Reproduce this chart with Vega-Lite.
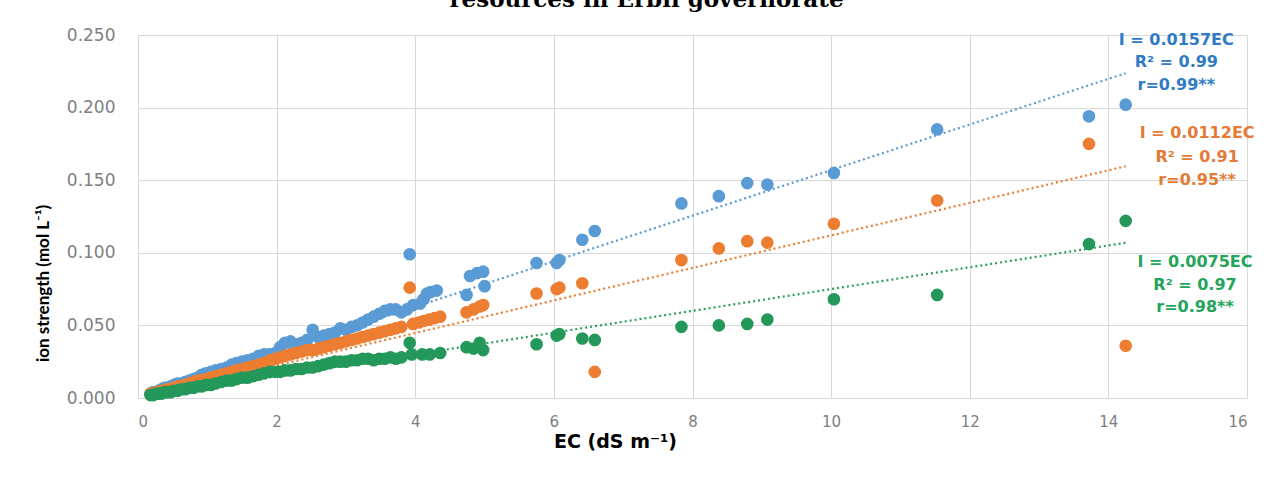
{
  "$schema": "https://vega.github.io/schema/vega-lite/v6.json",
  "width": 1109,
  "height": 363,
  "autosize": "none",
  "padding": {"left": 138, "top": 35, "right": 29, "bottom": 100},
  "background": "white",
  "title": {
    "text": "resources in Erbil governorate",
    "font": "DejaVu Serif",
    "fontSize": 23,
    "fontWeight": "bold",
    "color": "#000000",
    "anchor": "middle",
    "frame": "group",
    "baseline": "alphabetic",
    "offset": -4,
    "dx": -46
  },
  "config": {
    "view": {"stroke": null},
    "axis": {
      "grid": true,
      "gridColor": "#d9d9d9",
      "gridWidth": 1,
      "ticks": false,
      "labelFont": "DejaVu Sans",
      "labelFontSize": 15,
      "labelColor": "#7f7f7f",
      "titleFont": "Lato",
      "titleFontSize": 17,
      "titleFontWeight": "bold",
      "titleColor": "#000000"
    }
  },
  "datasets": {
    "pts": [
      {"EC":0.18,"I":0.003,"s":"a"},{"EC":0.22,"I":0.004,"s":"a"},{"EC":0.26,"I":0.004,"s":"a"},{"EC":0.3,"I":0.005,"s":"a"},{"EC":0.34,"I":0.006,"s":"a"},{"EC":0.38,"I":0.007,"s":"a"},{"EC":0.42,"I":0.007,"s":"a"},{"EC":0.47,"I":0.008,"s":"a"},{"EC":0.52,"I":0.009,"s":"a"},{"EC":0.57,"I":0.010,"s":"a"},{"EC":0.62,"I":0.010,"s":"a"},{"EC":0.68,"I":0.011,"s":"a"},{"EC":0.74,"I":0.012,"s":"a"},{"EC":0.8,"I":0.013,"s":"a"},{"EC":0.86,"I":0.014,"s":"a"},{"EC":0.92,"I":0.016,"s":"a"},{"EC":0.98,"I":0.017,"s":"a"},{"EC":1.05,"I":0.018,"s":"a"},{"EC":1.12,"I":0.019,"s":"a"},{"EC":1.2,"I":0.020,"s":"a"},{"EC":1.28,"I":0.021,"s":"a"},{"EC":1.35,"I":0.023,"s":"a"},{"EC":1.42,"I":0.024,"s":"a"},{"EC":1.5,"I":0.025,"s":"a"},{"EC":1.58,"I":0.026,"s":"a"},{"EC":1.66,"I":0.027,"s":"a"},{"EC":1.74,"I":0.029,"s":"a"},{"EC":1.82,"I":0.030,"s":"a"},{"EC":1.9,"I":0.030,"s":"a"},{"EC":1.98,"I":0.031,"s":"a"},{"EC":2.05,"I":0.035,"s":"a"},{"EC":2.12,"I":0.038,"s":"a"},{"EC":2.2,"I":0.039,"s":"a"},{"EC":2.28,"I":0.037,"s":"a"},{"EC":2.36,"I":0.038,"s":"a"},{"EC":2.44,"I":0.040,"s":"a"},{"EC":2.52,"I":0.047,"s":"a"},{"EC":2.6,"I":0.042,"s":"a"},{"EC":2.68,"I":0.043,"s":"a"},{"EC":2.76,"I":0.044,"s":"a"},{"EC":2.84,"I":0.045,"s":"a"},{"EC":2.92,"I":0.048,"s":"a"},{"EC":3.0,"I":0.047,"s":"a"},{"EC":3.08,"I":0.049,"s":"a"},{"EC":3.16,"I":0.050,"s":"a"},{"EC":3.24,"I":0.052,"s":"a"},{"EC":3.32,"I":0.054,"s":"a"},{"EC":3.4,"I":0.056,"s":"a"},{"EC":3.48,"I":0.058,"s":"a"},{"EC":3.56,"I":0.060,"s":"a"},{"EC":3.64,"I":0.061,"s":"a"},{"EC":3.72,"I":0.061,"s":"a"},{"EC":3.8,"I":0.059,"s":"a"},{"EC":3.88,"I":0.061,"s":"a"},{"EC":3.92,"I":0.099,"s":"a"},{"EC":3.97,"I":0.064,"s":"a"},{"EC":4.07,"I":0.065,"s":"a"},{"EC":4.12,"I":0.068,"s":"a"},{"EC":4.17,"I":0.072,"s":"a"},{"EC":4.22,"I":0.073,"s":"a"},{"EC":4.31,"I":0.074,"s":"a"},{"EC":4.74,"I":0.071,"s":"a"},{"EC":4.79,"I":0.084,"s":"a"},{"EC":4.89,"I":0.086,"s":"a"},{"EC":4.98,"I":0.087,"s":"a"},{"EC":5.0,"I":0.077,"s":"a"},{"EC":5.75,"I":0.093,"s":"a"},{"EC":6.04,"I":0.093,"s":"a"},{"EC":6.08,"I":0.095,"s":"a"},{"EC":6.41,"I":0.109,"s":"a"},{"EC":6.59,"I":0.115,"s":"a"},{"EC":7.84,"I":0.134,"s":"a"},{"EC":8.38,"I":0.139,"s":"a"},{"EC":8.79,"I":0.148,"s":"a"},{"EC":9.08,"I":0.147,"s":"a"},{"EC":10.04,"I":0.155,"s":"a"},{"EC":11.53,"I":0.185,"s":"a"},{"EC":13.72,"I":0.194,"s":"a"},{"EC":14.25,"I":0.202,"s":"a"},
      {"EC":0.18,"I":0.003,"s":"b"},{"EC":0.22,"I":0.003,"s":"b"},{"EC":0.26,"I":0.004,"s":"b"},{"EC":0.3,"I":0.004,"s":"b"},{"EC":0.34,"I":0.005,"s":"b"},{"EC":0.38,"I":0.005,"s":"b"},{"EC":0.42,"I":0.006,"s":"b"},{"EC":0.47,"I":0.006,"s":"b"},{"EC":0.52,"I":0.007,"s":"b"},{"EC":0.57,"I":0.008,"s":"b"},{"EC":0.62,"I":0.008,"s":"b"},{"EC":0.68,"I":0.009,"s":"b"},{"EC":0.74,"I":0.010,"s":"b"},{"EC":0.8,"I":0.011,"s":"b"},{"EC":0.86,"I":0.012,"s":"b"},{"EC":0.92,"I":0.012,"s":"b"},{"EC":0.98,"I":0.013,"s":"b"},{"EC":1.05,"I":0.014,"s":"b"},{"EC":1.12,"I":0.015,"s":"b"},{"EC":1.2,"I":0.016,"s":"b"},{"EC":1.28,"I":0.017,"s":"b"},{"EC":1.35,"I":0.018,"s":"b"},{"EC":1.42,"I":0.019,"s":"b"},{"EC":1.5,"I":0.020,"s":"b"},{"EC":1.58,"I":0.021,"s":"b"},{"EC":1.66,"I":0.022,"s":"b"},{"EC":1.74,"I":0.023,"s":"b"},{"EC":1.82,"I":0.024,"s":"b"},{"EC":1.9,"I":0.026,"s":"b"},{"EC":1.98,"I":0.027,"s":"b"},{"EC":2.05,"I":0.028,"s":"b"},{"EC":2.12,"I":0.029,"s":"b"},{"EC":2.2,"I":0.030,"s":"b"},{"EC":2.28,"I":0.031,"s":"b"},{"EC":2.36,"I":0.032,"s":"b"},{"EC":2.44,"I":0.033,"s":"b"},{"EC":2.52,"I":0.033,"s":"b"},{"EC":2.6,"I":0.034,"s":"b"},{"EC":2.68,"I":0.035,"s":"b"},{"EC":2.76,"I":0.036,"s":"b"},{"EC":2.84,"I":0.037,"s":"b"},{"EC":2.92,"I":0.038,"s":"b"},{"EC":3.0,"I":0.039,"s":"b"},{"EC":3.08,"I":0.040,"s":"b"},{"EC":3.16,"I":0.041,"s":"b"},{"EC":3.24,"I":0.042,"s":"b"},{"EC":3.32,"I":0.043,"s":"b"},{"EC":3.4,"I":0.044,"s":"b"},{"EC":3.48,"I":0.045,"s":"b"},{"EC":3.56,"I":0.046,"s":"b"},{"EC":3.64,"I":0.047,"s":"b"},{"EC":3.72,"I":0.048,"s":"b"},{"EC":3.8,"I":0.049,"s":"b"},{"EC":3.92,"I":0.076,"s":"b"},{"EC":3.97,"I":0.051,"s":"b"},{"EC":4.05,"I":0.052,"s":"b"},{"EC":4.12,"I":0.053,"s":"b"},{"EC":4.2,"I":0.054,"s":"b"},{"EC":4.28,"I":0.055,"s":"b"},{"EC":4.36,"I":0.056,"s":"b"},{"EC":4.74,"I":0.059,"s":"b"},{"EC":4.84,"I":0.061,"s":"b"},{"EC":4.93,"I":0.063,"s":"b"},{"EC":4.98,"I":0.064,"s":"b"},{"EC":5.75,"I":0.072,"s":"b"},{"EC":6.04,"I":0.075,"s":"b"},{"EC":6.08,"I":0.076,"s":"b"},{"EC":6.41,"I":0.079,"s":"b"},{"EC":6.59,"I":0.018,"s":"b"},{"EC":7.84,"I":0.095,"s":"b"},{"EC":8.38,"I":0.103,"s":"b"},{"EC":8.79,"I":0.108,"s":"b"},{"EC":9.08,"I":0.107,"s":"b"},{"EC":10.04,"I":0.120,"s":"b"},{"EC":11.53,"I":0.136,"s":"b"},{"EC":13.72,"I":0.175,"s":"b"},{"EC":14.25,"I":0.036,"s":"b"},
      {"EC":0.18,"I":0.002,"s":"c"},{"EC":0.22,"I":0.002,"s":"c"},{"EC":0.26,"I":0.003,"s":"c"},{"EC":0.3,"I":0.003,"s":"c"},{"EC":0.34,"I":0.003,"s":"c"},{"EC":0.38,"I":0.004,"s":"c"},{"EC":0.42,"I":0.004,"s":"c"},{"EC":0.47,"I":0.004,"s":"c"},{"EC":0.52,"I":0.005,"s":"c"},{"EC":0.57,"I":0.005,"s":"c"},{"EC":0.62,"I":0.006,"s":"c"},{"EC":0.68,"I":0.006,"s":"c"},{"EC":0.74,"I":0.007,"s":"c"},{"EC":0.8,"I":0.007,"s":"c"},{"EC":0.86,"I":0.008,"s":"c"},{"EC":0.92,"I":0.008,"s":"c"},{"EC":0.98,"I":0.009,"s":"c"},{"EC":1.05,"I":0.009,"s":"c"},{"EC":1.12,"I":0.010,"s":"c"},{"EC":1.2,"I":0.011,"s":"c"},{"EC":1.28,"I":0.012,"s":"c"},{"EC":1.35,"I":0.012,"s":"c"},{"EC":1.42,"I":0.013,"s":"c"},{"EC":1.5,"I":0.014,"s":"c"},{"EC":1.58,"I":0.014,"s":"c"},{"EC":1.66,"I":0.015,"s":"c"},{"EC":1.74,"I":0.016,"s":"c"},{"EC":1.82,"I":0.017,"s":"c"},{"EC":1.9,"I":0.018,"s":"c"},{"EC":1.98,"I":0.018,"s":"c"},{"EC":2.05,"I":0.018,"s":"c"},{"EC":2.12,"I":0.019,"s":"c"},{"EC":2.2,"I":0.019,"s":"c"},{"EC":2.28,"I":0.020,"s":"c"},{"EC":2.36,"I":0.020,"s":"c"},{"EC":2.44,"I":0.021,"s":"c"},{"EC":2.52,"I":0.021,"s":"c"},{"EC":2.6,"I":0.022,"s":"c"},{"EC":2.68,"I":0.023,"s":"c"},{"EC":2.76,"I":0.024,"s":"c"},{"EC":2.84,"I":0.025,"s":"c"},{"EC":2.92,"I":0.025,"s":"c"},{"EC":3.0,"I":0.025,"s":"c"},{"EC":3.08,"I":0.026,"s":"c"},{"EC":3.16,"I":0.026,"s":"c"},{"EC":3.24,"I":0.027,"s":"c"},{"EC":3.32,"I":0.027,"s":"c"},{"EC":3.4,"I":0.026,"s":"c"},{"EC":3.48,"I":0.027,"s":"c"},{"EC":3.56,"I":0.027,"s":"c"},{"EC":3.64,"I":0.028,"s":"c"},{"EC":3.72,"I":0.027,"s":"c"},{"EC":3.8,"I":0.028,"s":"c"},{"EC":3.92,"I":0.038,"s":"c"},{"EC":3.95,"I":0.030,"s":"c"},{"EC":4.1,"I":0.030,"s":"c"},{"EC":4.21,"I":0.030,"s":"c"},{"EC":4.36,"I":0.031,"s":"c"},{"EC":4.74,"I":0.035,"s":"c"},{"EC":4.84,"I":0.034,"s":"c"},{"EC":4.93,"I":0.038,"s":"c"},{"EC":4.98,"I":0.033,"s":"c"},{"EC":5.75,"I":0.037,"s":"c"},{"EC":6.04,"I":0.043,"s":"c"},{"EC":6.08,"I":0.044,"s":"c"},{"EC":6.41,"I":0.041,"s":"c"},{"EC":6.59,"I":0.040,"s":"c"},{"EC":7.84,"I":0.049,"s":"c"},{"EC":8.38,"I":0.050,"s":"c"},{"EC":8.79,"I":0.051,"s":"c"},{"EC":9.08,"I":0.054,"s":"c"},{"EC":10.04,"I":0.068,"s":"c"},{"EC":11.53,"I":0.071,"s":"c"},{"EC":13.72,"I":0.106,"s":"c"},{"EC":14.25,"I":0.122,"s":"c"}
    ],
    "trend": [
      {"EC":0.18,"I":0.0028,"s":"a"},{"EC":14.25,"I":0.2237,"s":"a"},
      {"EC":0.18,"I":0.0020,"s":"b"},{"EC":14.25,"I":0.1596,"s":"b"},
      {"EC":0.18,"I":0.00135,"s":"c"},{"EC":14.25,"I":0.1069,"s":"c"}
    ],
    "notes": [
      {"EC":14.98,"I":0.2467,"t":"I = 0.0157EC","s":"a"},
      {"EC":14.98,"I":0.2315,"t":"R² = 0.99","s":"a"},
      {"EC":14.98,"I":0.2157,"t":"r=0.99**","s":"a"},
      {"EC":15.28,"I":0.1826,"t":"I = 0.0112EC","s":"b"},
      {"EC":15.28,"I":0.1660,"t":"R² = 0.91","s":"b"},
      {"EC":15.28,"I":0.1500,"t":"r=0.95**","s":"b"},
      {"EC":15.25,"I":0.0937,"t":"I = 0.0075EC","s":"c"},
      {"EC":15.25,"I":0.0779,"t":"R² = 0.97","s":"c"},
      {"EC":15.25,"I":0.0627,"t":"r=0.98**","s":"c"}
    ]
  },
  "encoding": {
    "x": {
      "field": "EC",
      "type": "quantitative",
      "scale": {"domain": [0, 16], "nice": false, "zero": false},
      "axis": {
        "values": [0, 2, 4, 6, 8, 10, 12, 14, 16],
        "title": "EC (dS m⁻¹)",
        "domainColor": "#d9d9d9",
        "labelPadding": 16,
        "titleFont": "DejaVu Sans",
        "titleFontSize": 19,
        "titleX": 477,
        "titleY": 43,
        "titleAlign": "center",
        "titleBaseline": "middle"
      }
    },
    "y": {
      "field": "I",
      "type": "quantitative",
      "scale": {"domain": [0, 0.25], "nice": false},
      "axis": {
        "values": [0, 0.05, 0.1, 0.15, 0.2, 0.25],
        "format": ".3f",
        "title": "ion strength (mol L⁻¹)",
        "domain": false,
        "labelFontSize": 17,
        "labelPadding": 23,
        "titleX": -95,
        "titleY": 248,
        "titleAngle": -90,
        "titleAlign": "center",
        "titleBaseline": "middle"
      }
    }
  },
  "layer": [
    {
      "data": {"name": "trend"},
      "mark": {"type": "line", "strokeDash": [2, 3], "strokeWidth": 2.2},
      "encoding": {
        "color": {"field": "s", "type": "nominal", "legend": null,
          "scale": {"domain": ["a", "b", "c"], "range": ["#5B9BD5", "#ED7D31", "#2E9E5E"]}},
        "detail": {"field": "s"}
      }
    },
    {
      "data": {"name": "pts"},
      "mark": {"type": "circle", "size": 160, "opacity": 1},
      "encoding": {
        "color": {"field": "s", "type": "nominal", "legend": null,
          "scale": {"domain": ["a", "b", "c"], "range": ["#5B9BD5", "#ED7D31", "#23985A"]}}
      }
    },
    {
      "data": {"name": "notes"},
      "mark": {"type": "text", "font": "DejaVu Sans", "fontSize": 16, "fontWeight": "bold", "align": "center", "baseline": "middle", "clip": false},
      "encoding": {
        "text": {"field": "t"},
        "color": {"field": "s", "type": "nominal", "legend": null,
          "scale": {"domain": ["a", "b", "c"], "range": ["#2F7BC6", "#E47A35", "#22A55A"]}}
      }
    }
  ],
  "resolve": {"scale": {"color": "independent"}}
}
